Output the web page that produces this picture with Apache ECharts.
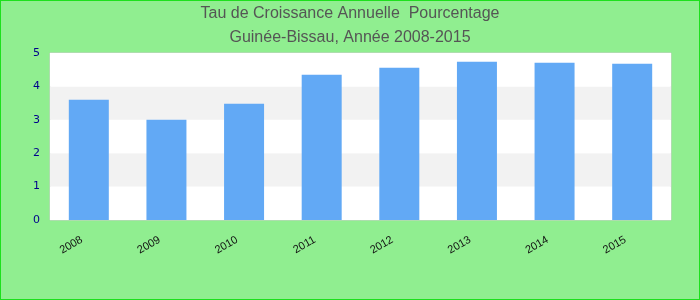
<!DOCTYPE html>
<html>
<head>
<meta charset="utf-8">
<script src="https://cdn.jsdelivr.net/npm/echarts@6/dist/echarts.min.js"></script>
<style>
html,body{margin:0;padding:0;}
#c{width:700px;height:300px;box-sizing:border-box;border:1px solid #1de01d;background:#90EE90;}
</style>
</head>
<body>
<div id="c"></div>
<script>
var categories = ['2008','2009','2010','2011','2012','2013','2014','2015'];
var values = [3.6, 3.0, 3.48, 4.35, 4.56, 4.74, 4.71, 4.68];
var yTicks = [0, 1, 2, 3, 4, 5];
var titleText = 'Tau de Croissance Annuelle  Pourcentage\nGuinée-Bissau, Année 2008-2015';

var chart = echarts.init(document.getElementById('c'), null, {renderer: 'canvas'});
chart.setOption({
  backgroundColor: 'transparent',
  animation: false,
  title: {
    text: titleText,
    left: 'center',
    top: 0,
    padding: [1, 0, 0, 0],
    textStyle: {
      fontFamily: 'Liberation Sans',
      fontSize: 16,
      fontWeight: 'normal',
      color: '#555555',
      lineHeight: 24
    }
  },
  grid: {
    left: 49, right: 28, top: 52, bottom: 79,
    show: true,
    backgroundColor: '#ffffff',
    borderColor: '#cccccc',
    borderWidth: 1
  },
  xAxis: {
    type: 'category',
    data: categories,
    axisLine: {show: false},
    axisTick: {show: false},
    axisLabel: {
      rotate: 30,
      margin: 15,
      padding: [0, 8, 0, 0],
      fontFamily: 'Liberation Sans',
      fontSize: 11,
      color: '#111111'
    }
  },
  yAxis: {
    type: 'value',
    min: yTicks[0],
    max: yTicks[yTicks.length - 1],
    interval: 1,
    axisLine: {show: false},
    axisTick: {show: false},
    splitLine: {show: false},
    splitArea: {show: true, areaStyle: {color: ['#ffffff', '#f2f2f2']}},
    axisLabel: {
      margin: 10,
      fontFamily: 'DejaVu Sans',
      fontSize: 11,
      color: '#00008b'
    }
  },
  series: [{
    type: 'bar',
    data: values,
    barWidth: 40,
    itemStyle: {color: '#62A9F5'}
  }]
});
</script>
</body>
</html>
